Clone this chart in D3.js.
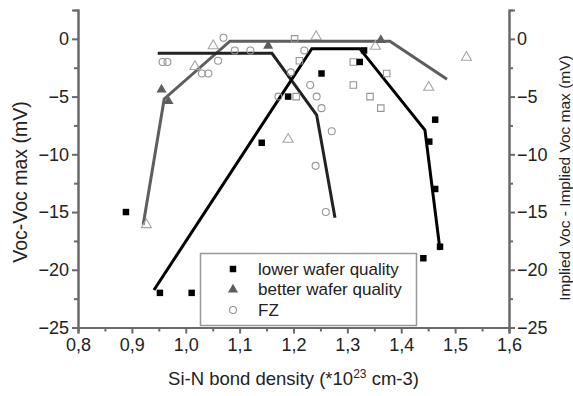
<!DOCTYPE html>
<html>
<head>
<meta charset="utf-8">
<script src="https://cdn.jsdelivr.net/npm/d3@7"></script>
<style>
  body { margin: 0; background: #fff; }
  svg text { font-family: "Liberation Sans", Arial, sans-serif; fill: #222; }
</style>
</head>
<body>
<svg id="chart" width="573" height="396"></svg>
<script>
// x = Si-N bond density, y = Voc - Voc max
var lowerQuality = [[0.889, -15], [0.952, -22], [1.011, -22], [1.141, -9], [1.19, -5], [1.252, -3],
  [1.323, -2], [1.331, -1], [1.441, -19], [1.452, -8.9], [1.463, -7], [1.463, -13], [1.472, -18]];
var betterQuality = [[0.955, -4.4], [0.968, -5.4], [1.153, -0.6], [1.362, -0.1]];
var fz = [[0.957, -2], [0.966, -2], [1.03, -3], [1.042, -3], [1.06, -1.9], [1.07, 0.1], [1.091, -1],
  [1.12, -1], [1.172, -5], [1.195, -2.9], [1.22, -1], [1.231, -4], [1.243, -5], [1.252, -6],
  [1.271, -8], [1.241, -11], [1.26, -15]];
// open symbols without legend entry (implied Voc)
var openTriangles = [[0.927, -16.1], [1.017, -2.4], [1.051, -0.6], [1.19, -8.7], [1.242, 0.2],
  [1.352, -0.65], [1.451, -4.2], [1.521, -1.6]];
var openSquares = [[1.202, 0], [1.211, -1.9], [1.205, -5], [1.311, -2], [1.311, -4], [1.342, -5],
  [1.362, -6], [1.373, -3]];
// trend lines
var lowerLine = [[0.941, -21.75], [1.234, -0.85], [1.323, -0.85], [1.444, -7.9], [1.472, -18.3]];
var betterLine = [[0.921, -16.1], [0.96, -5.2], [1.082, -0.2], [1.379, -0.2], [1.485, -3.5]];
var fzLine = [[0.948, -1.25], [1.16, -1.25], [1.243, -6.6], [1.277, -15.5]];

var xTicks = [0.8, 0.9, 1.0, 1.1, 1.2, 1.3, 1.4, 1.5, 1.6];
var xMinor = [0.85, 0.95, 1.05, 1.15, 1.25, 1.35, 1.45, 1.55];
var yTicks = [0, -5, -10, -15, -20, -25];
var yMinor = [-2.5, -7.5, -12.5, -17.5, -22.5];
var legendKeys = ["lower wafer quality", "better wafer quality", "FZ"];

var svg = d3.select("svg#chart"),
    margin = {left: 78, right: 509, top: 10, bottom: 327.5};

var x = d3.scaleLinear().domain([0.8, 1.6]).range([margin.left, margin.right]);
var y = d3.scaleLinear().domain([-25, 2.5]).range([margin.bottom, margin.top]);

var fmt = function(d) { return d3.format(".1f")(d).replace(".", ","); };
var axisColor = "#6a6a6a";

function styleAxis(g) {
  g.selectAll("path, line").attr("stroke", axisColor).attr("stroke-width", 2);
  g.selectAll("text").attr("font-size", 18).attr("fill", "#222")
    .attr("font-family", '"Liberation Sans", Arial, sans-serif');
}

// minor ticks first
svg.append("g").attr("transform", "translate(0," + margin.bottom + ")")
    .call(d3.axisBottom(x).tickValues(xMinor).tickSize(4).tickFormat(""))
    .call(styleAxis);
svg.append("g").attr("transform", "translate(" + margin.left + ",0)")
    .call(d3.axisLeft(y).tickValues(yMinor).tickSize(4).tickFormat(""))
    .call(styleAxis);
svg.append("g").attr("transform", "translate(" + margin.right + ",0)")
    .call(d3.axisRight(y).tickValues(yMinor).tickSize(4).tickFormat(""))
    .call(styleAxis);

svg.append("g").attr("transform", "translate(0," + margin.bottom + ")")
    .call(d3.axisBottom(x).tickValues(xTicks).tickSize(6).tickPadding(5).tickFormat(fmt))
    .call(styleAxis);
svg.append("g").attr("transform", "translate(" + margin.left + ",0)")
    .call(d3.axisLeft(y).tickValues(yTicks).tickSize(6).tickPadding(3).tickFormat(d3.format("d")))
    .call(styleAxis);
svg.append("g").attr("transform", "translate(" + margin.right + ",0)")
    .call(d3.axisRight(y).tickValues(yTicks).tickSize(6).tickPadding(2).tickFormat(d3.format("d")))
    .call(styleAxis);

// axis titles
svg.append("text")
    .attr("transform", "translate(27,182) rotate(-90)")
    .attr("text-anchor", "middle")
    .attr("font-size", 19.5)
    .text("Voc-Voc max (mV)");

svg.append("text")
    .attr("transform", "translate(570,178) rotate(-90)")
    .attr("text-anchor", "middle")
    .attr("font-size", 15.5)
    .text("Implied Voc - Implied Voc max (mV)");

var xt = svg.append("text")
    .attr("x", (margin.left + margin.right) / 2)
    .attr("y", 385)
    .attr("text-anchor", "middle")
    .attr("font-size", 18.5);
xt.append("tspan").text("Si-N bond density (*10");
xt.append("tspan").attr("font-size", 12).attr("dy", -7).text("23");
xt.append("tspan").attr("dy", 7).text(" cm-3)");

// trend lines
var line = d3.line().x(function(d) { return x(d[0]); }).y(function(d) { return y(d[1]); });

svg.append("path").datum(betterLine).attr("d", line)
    .attr("fill", "none").attr("stroke", "#5e5e5e").attr("stroke-width", 3);
svg.append("path").datum(fzLine).attr("d", line)
    .attr("fill", "none").attr("stroke", "#222").attr("stroke-width", 3);
svg.append("path").datum(lowerLine).attr("d", line)
    .attr("fill", "none").attr("stroke", "#000").attr("stroke-width", 3);

// markers
var tri = d3.symbol().type(d3.symbolTriangle).size(44);
var sq = d3.symbol().type(d3.symbolSquare).size(42);
var circ = d3.symbol().type(d3.symbolCircle).size(38);

function drawPoints(data, sym, fill, stroke) {
  svg.append("g").selectAll("path")
    .data(data)
    .enter().append("path")
      .attr("transform", function(d) { return "translate(" + x(d[0]) + "," + y(d[1]) + ")"; })
      .attr("d", sym)
      .attr("fill", fill)
      .attr("stroke", stroke)
      .attr("stroke-width", 1.1);
}

drawPoints(openSquares, sq, "none", "#959595");
drawPoints(openTriangles, tri, "none", "#a5a5a5");
drawPoints(fz, circ, "none", "#959595");
drawPoints(betterQuality, tri, "#5e5e5e", "none");
drawPoints(lowerQuality, sq, "#000", "none");

// legend
var legend = svg.append("g");
legend.append("rect")
    .attr("x", 200.5).attr("y", 253.5)
    .attr("width", 216).attr("height", 72)
    .attr("fill", "#fff").attr("stroke", "#999").attr("stroke-width", 1.5);

var legSyms = [[sq, "#000", "none"], [tri, "#5e5e5e", "none"], [circ, "none", "#959595"]];
var items = legend.selectAll("g.item")
    .data(legendKeys)
    .enter().append("g")
      .attr("transform", function(d, i) { return "translate(0," + (269 + i * 20.5) + ")"; });

items.append("path")
    .attr("transform", "translate(233,0)")
    .attr("d", function(d, i) { return legSyms[i][0](); })
    .attr("fill", function(d, i) { return legSyms[i][1]; })
    .attr("stroke", function(d, i) { return legSyms[i][2]; })
    .attr("stroke-width", 1.1);

items.append("text")
    .attr("x", 258)
    .attr("dy", "0.35em")
    .attr("font-size", 17)
    .text(function(d) { return d; });
</script>
</body>
</html>
